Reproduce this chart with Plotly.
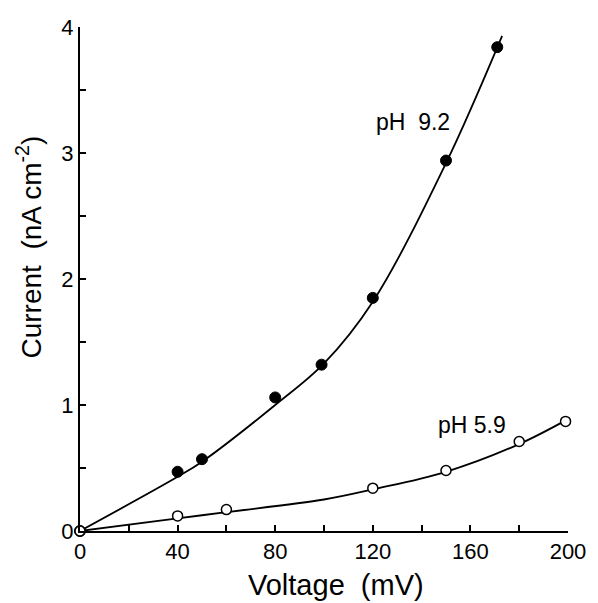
import plotly.graph_objects as go

# pH 9.2 (filled circles)
v_92 = [0, 40, 50, 80, 99, 120, 150, 171]
i_92 = [0, 0.47, 0.57, 1.06, 1.32, 1.85, 2.94, 3.84]
# fitted curve through pH 9.2
cv_92 = [0, 40, 50, 80, 100, 120, 150, 173]
ci_92 = [0, 0.43, 0.55, 1.0, 1.33, 1.82, 2.92, 3.93]

# pH 5.9 (open circles)
v_59 = [0, 40, 60, 120, 150, 180, 199]
i_59 = [0, 0.12, 0.17, 0.34, 0.48, 0.71, 0.87]
cv_59 = [0, 40, 60, 100, 120, 150, 180, 203]
ci_59 = [0, 0.1, 0.15, 0.25, 0.33, 0.47, 0.69, 0.92]

x_ticks = [0, 40, 80, 120, 160, 200]
y_ticks = [0, 1, 2, 3, 4]

font = "Liberation Sans, Arial, sans-serif"

fig = go.Figure()
fig.add_trace(go.Scatter(x=cv_92, y=ci_92, mode="lines", line=dict(color="black", width=1.8, shape="spline", smoothing=1.0), cliponaxis=False, showlegend=False))
fig.add_trace(go.Scatter(x=cv_59, y=ci_59, mode="lines", line=dict(color="black", width=1.8, shape="spline", smoothing=1.0), cliponaxis=False, showlegend=False))
fig.add_trace(go.Scatter(x=v_92, y=i_92, mode="markers", marker=dict(color="black", size=11, line=dict(color="black", width=1)), cliponaxis=False, showlegend=False))
fig.add_trace(go.Scatter(x=v_59, y=i_59, mode="markers", marker=dict(color="white", size=10, line=dict(color="black", width=1.5)), cliponaxis=False, showlegend=False))

fig.add_annotation(x=136.6, y=3.25, text="pH  9.2", showarrow=False, font=dict(family=font, size=23, color="black"))
fig.add_annotation(x=160.8, y=0.84, text="pH 5.9", showarrow=False, font=dict(family=font, size=23, color="black"))

# axis titles
fig.add_annotation(x=105, y=-0.107, xref="x", yref="paper", text="Voltage  (mV)", showarrow=False,
                   xanchor="center", yanchor="middle", font=dict(family=font, size=29, color="black"))
fig.add_annotation(x=0, y=2.25, xref="paper", yref="y", xshift=-51, text="Current  (nA cm<sup>-2</sup>)", showarrow=False,
                   textangle=-90, xanchor="center", yanchor="middle", font=dict(family=font, size=28, color="black"))

fig.update_layout(
    width=598, height=603,
    margin=dict(l=80, r=23, t=27, b=72),
    plot_bgcolor="white", paper_bgcolor="white",
    font=dict(family=font, color="black"),
)
fig.update_xaxes(
    range=[0, 200], showgrid=False, zeroline=False,
    showline=True, linecolor="black", linewidth=2,
    tickmode="array", tickvals=x_ticks, ticktext=[str(t) for t in x_ticks],
    ticks="inside", ticklen=6, tickwidth=1.5, tickcolor="black",
    minor=dict(ticks="inside", ticklen=6, tickwidth=1.5, tickcolor="black", dtick=20, tick0=0),
    tickfont=dict(size=22),
)
fig.update_yaxes(
    range=[0, 4], showgrid=False, zeroline=False,
    showline=True, linecolor="black", linewidth=2,
    tickmode="array", tickvals=y_ticks, ticktext=[str(t) for t in y_ticks],
    ticks="inside", ticklen=6, tickwidth=1.5, tickcolor="black",
    minor=dict(ticks="inside", ticklen=6, tickwidth=1.5, tickcolor="black", dtick=0.5, tick0=0),
    tickfont=dict(size=22),
)

fig.write_html("out.html")
